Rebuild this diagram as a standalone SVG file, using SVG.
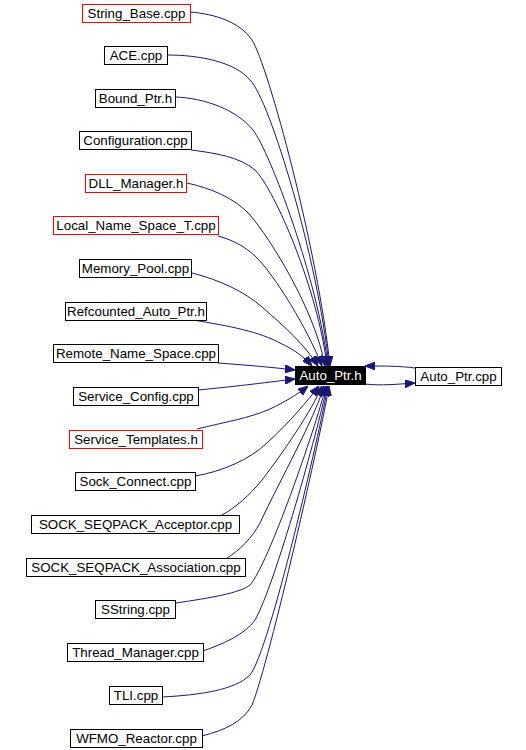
<svg xmlns="http://www.w3.org/2000/svg" width="526" height="750" viewBox="0 0 526 750">
<style>
.n rect{fill:#fff;stroke:#000;stroke-width:1}
.n.r rect{stroke:#f00}
.n text{font-family:"Liberation Sans",Arial,sans-serif;font-size:13.33px;text-anchor:middle;fill:#000}
.n.cur rect{fill:#000;stroke:#000}
.n.cur text{fill:#fff}
.e path{fill:none;stroke:#191970;stroke-width:1;marker-end:url(#ah)}
</style>
<defs>
<marker id="ah" viewBox="0 0 10 8" refX="10" refY="4" markerWidth="10" markerHeight="8" markerUnits="userSpaceOnUse" orient="auto">
<path d="M0,0 L10,4 L0,8 z" fill="#191970" stroke="#191970"/>
</marker>
</defs>
<rect width="526" height="750" fill="#fff"/>
<g id="edges" class="e">
<path d="M190,12 C215,14 240,22 252,40 C268,65 318,250 330,366"/>
<path d="M167,55 C200,55 235,62 250,80 C270,100 318,260 329,366"/>
<path d="M175,97 C205,98 237,110 253,130 C270,152 318,280 328,366"/>
<path d="M191,150 C215,153 240,157 255,170 C275,190 318,290 327,366"/>
<path d="M187,183 C210,188 235,198 250,215 C270,238 315,310 325,366"/>
<path d="M218,236 C232,240 243,245 255,256 C275,275 308,330 322,366"/>
<path d="M192,273 C220,280 245,292 262,307 C285,327 305,345 318,366"/>
<path d="M193,320 C230,326 260,332 280,343 C295,350 304,357 312,366"/>
<path d="M218,363 C245,365 270,367 295,370"/>
<path d="M198,390 C240,386 270,382 295,379"/>
<path d="M197,429 C225,422 250,418 270,409 C285,402 298,394 308,386"/>
<path d="M195,476 C220,472 250,460 268,442 C290,422 308,400 319,386"/>
<path d="M222,515 C235,508 250,495 262,480 C285,450 312,410 322,386"/>
<path d="M227,558 C240,550 252,538 260,523 C280,480 314,420 324,386"/>
<path d="M176,603 C210,598 240,593 250,585 C268,565 315,430 326,386"/>
<path d="M203,651 C220,645 245,635 255,620 C275,585 318,430 327,386"/>
<path d="M162,697 C200,695 235,690 250,675 C270,650 320,430 328,386"/>
<path d="M202,736 C225,730 243,722 252,705 C270,660 322,430 329,386"/>
<path d="M415,368 C400,366 385,366 365,366"/>
<path d="M365,384 C380,386 400,384 415,383"/>
</g>
<g id="String_Base" class="n r"><rect x="82.5" y="4.5" width="108" height="18"/><text x="136.5" y="18">String_Base.cpp</text></g>
<g id="ACE" class="n"><rect x="104.5" y="46.5" width="63" height="18"/><text x="136" y="60">ACE.cpp</text></g>
<g id="Bound_Ptr" class="n"><rect x="95.5" y="89.5" width="80" height="18"/><text x="135.5" y="103">Bound_Ptr.h</text></g>
<g id="Configuration" class="n"><rect x="79.5" y="131.5" width="112" height="18"/><text x="135.5" y="145">Configuration.cpp</text></g>
<g id="DLL_Manager" class="n r"><rect x="85.5" y="174.5" width="101" height="18"/><text x="136" y="188">DLL_Manager.h</text></g>
<g id="Local_Name_Space_T" class="n r"><rect x="53.5" y="216.5" width="165" height="18"/><text x="136" y="230">Local_Name_Space_T.cpp</text></g>
<g id="Memory_Pool" class="n"><rect x="79.5" y="259.5" width="112" height="18"/><text x="135.5" y="273">Memory_Pool.cpp</text></g>
<g id="Refcounted_Auto_Ptr" class="n"><rect x="65.5" y="302.5" width="141" height="18"/><text x="136" y="316">Refcounted_Auto_Ptr.h</text></g>
<g id="Remote_Name_Space" class="n"><rect x="53.5" y="344.5" width="165" height="18"/><text x="136" y="358">Remote_Name_Space.cpp</text></g>
<g id="Service_Config" class="n"><rect x="73.5" y="387.5" width="125" height="18"/><text x="136" y="401">Service_Config.cpp</text></g>
<g id="Service_Templates" class="n r"><rect x="69.5" y="430.5" width="133" height="18"/><text x="136" y="444">Service_Templates.h</text></g>
<g id="Sock_Connect" class="n"><rect x="75.5" y="472.5" width="120" height="18"/><text x="135.5" y="486">Sock_Connect.cpp</text></g>
<g id="SOCK_SEQPACK_Acceptor" class="n"><rect x="31.5" y="515.5" width="208" height="18"/><text x="135.5" y="529">SOCK_SEQPACK_Acceptor.cpp</text></g>
<g id="SOCK_SEQPACK_Association" class="n"><rect x="26.5" y="558.5" width="219" height="18"/><text x="136" y="572">SOCK_SEQPACK_Association.cpp</text></g>
<g id="SString" class="n"><rect x="95.5" y="600.5" width="80" height="18"/><text x="135.5" y="614">SString.cpp</text></g>
<g id="Thread_Manager" class="n"><rect x="67.5" y="643.5" width="136" height="18"/><text x="135.5" y="657">Thread_Manager.cpp</text></g>
<g id="TLI" class="n"><rect x="109.5" y="686.5" width="53" height="18"/><text x="136" y="700">TLI.cpp</text></g>
<g id="WFMO_Reactor" class="n"><rect x="70.5" y="729.5" width="132" height="18"/><text x="136.5" y="743">WFMO_Reactor.cpp</text></g>
<g id="Auto_Ptr_h" class="n cur"><rect x="295.5" y="366.5" width="70" height="18"/><text x="330.5" y="380">Auto_Ptr.h</text></g>
<g id="Auto_Ptr_cpp" class="n"><rect x="415.5" y="367.5" width="86" height="18"/><text x="458.5" y="381">Auto_Ptr.cpp</text></g>
</svg>
